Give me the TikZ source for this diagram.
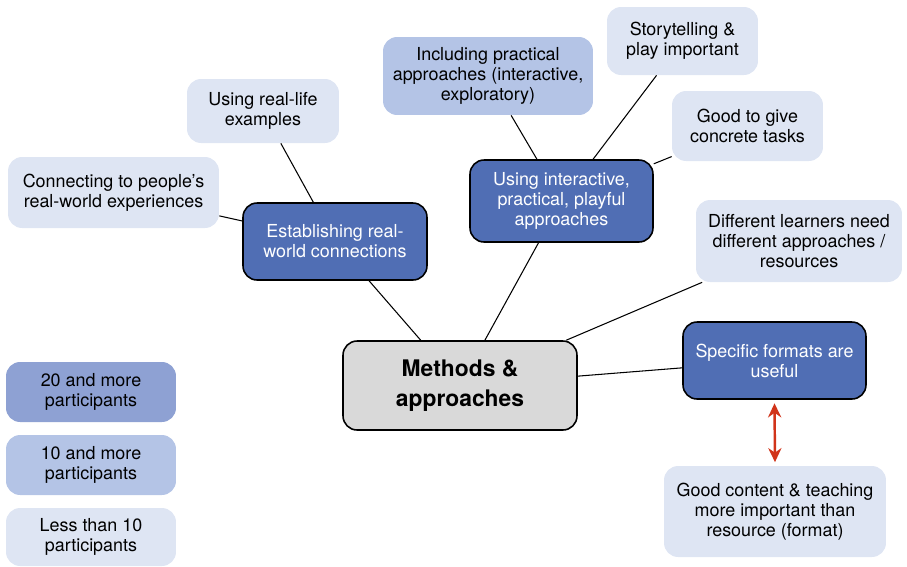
\documentclass[tikz,border=0pt]{standalone}
\usepackage{fontspec}
\setmainfont{TeX Gyre Heros}
\usepackage{tikz}
\usetikzlibrary{arrows.meta}
\definecolor{mydark}{RGB}{80, 110, 180}
\definecolor{mymid}{RGB}{142, 161, 211}
\definecolor{mylight}{RGB}{180, 196, 230}
\definecolor{mypale}{RGB}{222, 229, 243}
\definecolor{mygray}{RGB}{217, 217, 217}
\definecolor{myred}{RGB}{209, 52, 26}
\tikzset{>=latex,
  box/.style = {rounded corners = 8pt, align = center, inner sep = 0pt,
    font = \fontsize{10.2}{11.4}\selectfont},
  darkbox/.style = {box, fill = mydark, draw = black, line width = 0.9pt, text = white},
  palebox/.style = {box, fill = mypale},
  midbox/.style = {box, fill = mylight},
  mainbox/.style = {box, fill = mygray, draw = black, line width = 0.9pt,
    font = \fontsize{13}{17}\selectfont\bfseries},
  link/.style = {line width = 0.6pt}
}
\begin{document}
\begin{tikzpicture}[x = 0.02cm, y = -0.02cm]
\useasboundingbox (0,0) rectangle (907,566);
\node[mainbox, minimum width = 4.68cm, minimum height = 1.78cm] (cent) at (460, 385.5) {Methods \&\\approaches};
% first level
\node[darkbox, minimum width = 3.68cm, minimum height = 1.54cm] (estab) at (335, 241.5) {Establishing real-\\world connections};
\node[darkbox, minimum width = 3.66cm, minimum height = 1.64cm] (interact) at (561.5, 201) {Using interactive,\\practical, playful\\approaches};
\node[darkbox, minimum width = 3.66cm, minimum height = 1.54cm] (formats) at (774.5, 360.5) {Specific formats are\\useful};
\node[palebox, minimum width = 4.12cm, minimum height = 1.64cm] (learners) at (799, 241) {Different learners need\\different approaches /\\resources};
% second level
\node[palebox, minimum width = 3.04cm, minimum height = 1.28cm] (reallife) at (263, 111) {Using real-life\\examples};
\node[palebox, minimum width = 4.22cm, minimum height = 1.42cm] (connect) at (113.5, 192.5) {Connecting to people’s\\real-world experiences};
\node[midbox, minimum width = 4.20cm, minimum height = 1.56cm] (practical) at (488, 76) {Including practical\\approaches (interactive,\\exploratory)};
\node[palebox, minimum width = 3.02cm, minimum height = 1.36cm] (story) at (682.5, 41) {Storytelling \&\\play important};
\node[palebox, minimum width = 3.02cm, minimum height = 1.40cm] (tasks) at (747.5, 126) {Good to give\\concrete tasks};
\node[palebox, minimum width = 4.44cm, minimum height = 1.82cm] (content) at (775, 511.5) {Good content \& teaching\\more important than\\resource (format)};
% legend
\node[box, fill = mymid, minimum width = 3.4cm, minimum height = 1.2cm] (leg20) at (91, 392) {20 and more\\participants};
\node[midbox, minimum width = 3.4cm, minimum height = 1.2cm] (leg10) at (91, 465) {10 and more\\participants};
\node[palebox, minimum width = 3.4cm, minimum height = 1.16cm] (leg0) at (91, 537) {Less than 10\\participants};
% links
\foreach \a/\b in {cent/estab, cent/interact, cent/learners, cent/formats,
  estab/reallife, estab/connect, interact/practical, interact/story, interact/tasks}{
\draw[link] (\a) -- (\b);
}
\draw[{Stealth[length = 8pt, width = 7.5pt]}-{Stealth[length = 8pt, width = 7.5pt]}, myred, line width = 1.4pt] ([yshift = -2pt]formats.south) -- ([yshift = 2pt]content.north);
\end{tikzpicture}
\end{document}
